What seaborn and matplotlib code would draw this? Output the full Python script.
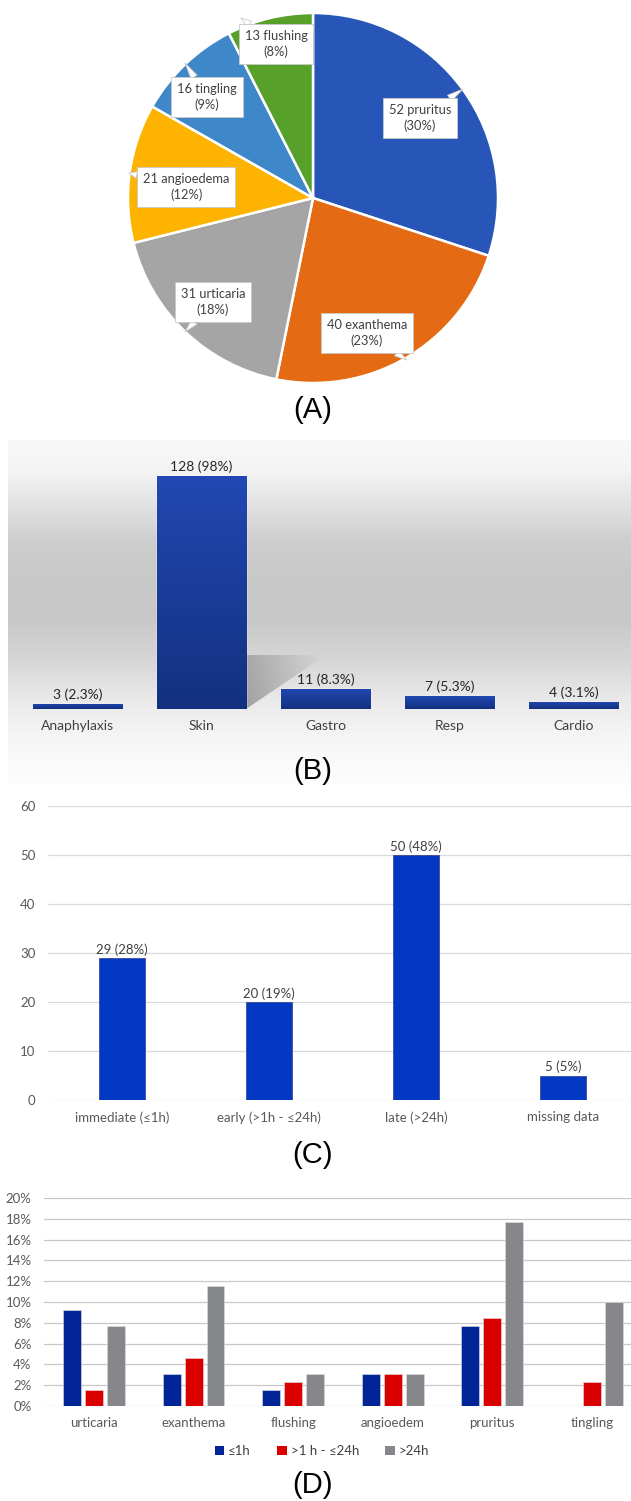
import numpy as np
import pandas as pd
import matplotlib
matplotlib.use("Agg")
import matplotlib.pyplot as plt
import seaborn as sns
from matplotlib.patches import Polygon, Patch
from matplotlib.colors import LinearSegmentedColormap

# ---------------- data ----------------
pie_names = ["pruritus", "exanthema", "urticaria", "angioedema", "tingling", "flushing"]
pie_counts = [52, 40, 31, 21, 16, 13]
pie_pcts = [30, 23, 18, 12, 9, 8]

b_cats = ["Anaphylaxis", "Skin", "Gastro", "Resp", "Cardio"]
b_counts = [3, 128, 11, 7, 4]
b_pcts = [2.3, 98, 8.3, 5.3, 3.1]

c_cats = ["immediate (≤1h)", "early (>1h - ≤24h)", "late (>24h)", "missing data"]
c_counts = [29, 20, 50, 5]
c_pcts = [28, 19, 48, 5]

d_cats = ["urticaria", "exanthema", "flushing", "angioedem", "pruritus", "tingling"]
d_onsets = ["≤1h", ">1 h - ≤24h", ">24h"]
d_le1h = [9.2, 3.1, 1.5, 3.1, 7.7, 0.0]
d_1to24 = [1.5, 4.6, 2.3, 3.1, 8.5, 2.3]
d_gt24 = [7.7, 11.5, 3.1, 3.1, 17.7, 10.0]

# ---------------- style ----------------
sns.set_theme(style="white")
plt.rcParams["font.family"] = ["Lato", "DejaVu Sans"]

W, H = 631, 1501
fig = plt.figure(figsize=(W / 100, H / 100), dpi=100)
fig.patch.set_facecolor("white")


def add_px(l, t, r, b, **kw):
    return fig.add_axes([l / W, 1 - b / H, (r - l) / W, (b - t) / H], **kw)


def panel_label(txt, y):
    fig.text(313 / W, 1 - y / H, txt, ha="center", va="center", fontsize=21,
             family=["Liberation Sans", "DejaVu Sans"], color="black")


# ---------------- (A) pie ----------------
pie_colors = ["#2756B8", "#E46A13", "#A5A5A5", "#FDB300", "#3E87C8", "#57A02A"]
axA = add_px(128, 13, 498, 383)
axA.pie(pie_counts, colors=pie_colors, startangle=90, counterclock=False,
        wedgeprops=dict(edgecolor="white", linewidth=1.8))
axA.set_xlim(-1, 1)
axA.set_ylim(-1, 1)
axA.set_aspect("equal")
label_pos = [(0.578, 0.432), (0.292, -0.730), (-0.541, -0.562),
             (-0.686, 0.059), (-0.573, 0.546), (-0.200, 0.832)]
tail_pos = [(0.811, 0.589), (0.508, -0.876), (-0.692, -0.724),
            (-0.995, 0.135), (-0.692, 0.730), (-0.389, 0.973)]
for name, n, p, lp, tp in zip(pie_names, pie_counts, pie_pcts, label_pos, tail_pos):
    axA.annotate(f"{n} {name}\n({p}%)", xy=tp, xytext=lp, ha="center", va="center",
                 fontsize=9.3, color="#404040", linespacing=1.3,
                 bbox=dict(boxstyle="square,pad=0.45", fc="white", ec="#c8c8c8", lw=0.6),
                 arrowprops=dict(arrowstyle="wedge,tail_width=0.55,shrink_factor=0.5",
                                 fc="white", ec="#c8c8c8", lw=0.6,
                                 shrinkA=0, shrinkB=0))
panel_label("(A)", 410)

# ---------------- (B) bars with gradient background ----------------
axBg = add_px(8, 440, 631, 785)
stops_y = [0.0, 0.09, 0.17, 0.29, 0.40, 0.52, 0.64, 0.75, 0.87, 1.0]
stops_v = [0.975, 0.955, 0.90, 0.81, 0.785, 0.785, 0.84, 0.915, 0.965, 0.995]
yy = np.linspace(0, 1, 300)
gv = np.interp(yy, stops_y, stops_v)
bg_img = np.repeat(np.stack([gv, gv, gv], axis=-1)[:, None, :], 2, axis=1)
axBg.imshow(bg_img, aspect="auto", extent=[0, 1, 0, 1], origin="upper")
axBg.axis("off")

axB = add_px(8, 440, 631, 709)
axB.patch.set_alpha(0)
sns.barplot(x=b_cats, y=b_counts, color="#1D43A8", saturation=1, width=0.72,
            ax=axB, errorbar=None)
bar_cmap = LinearSegmentedColormap.from_list("bb", ["#13317F", "#2148B3"])
grad = np.linspace(0, 1, 100)[:, None]
skin = axB.patches[1]
sx, sw, sh = skin.get_x(), skin.get_width(), skin.get_height()
shadow = Polygon([(sx + sw, 0), (sx + sw, sh * 0.23), (sx + sw * 1.9, sh * 0.23)],
                 closed=True, fc="none", ec="none")
axB.add_patch(shadow)
sgx = np.linspace(0, 1, 100)
sgy = np.linspace(0, 1, 60)
shade = 0.58 + 0.22 * sgx[None, :] + 0.05 * (1 - sgy[:, None])
sim = axB.imshow(shade, cmap="gray", vmin=0, vmax=1, aspect="auto",
                 extent=[sx + sw, sx + sw * 1.9, 0, sh * 0.23],
                 origin="upper", zorder=0.5, alpha=0.85)
sim.set_clip_path(shadow)
for p in list(axB.patches):
    if p is shadow:
        continue
    x, y, w, h = p.get_x(), p.get_y(), p.get_width(), p.get_height()
    im = axB.imshow(grad, cmap=bar_cmap, aspect="auto", extent=[x, x + w, y, y + h],
                    origin="lower", zorder=2)
    im.set_clip_path(p)
axB.bar_label(axB.containers[0], labels=[f"{n} ({p:g}%)" for n, p in zip(b_counts, b_pcts)],
              padding=2, fontsize=10, color="#262626")
axB.set_xlim(-0.5605, 4.464)
axB.set_ylim(0, 147.8)
axB.set_yticks([])
axB.set_ylabel("")
axB.tick_params(axis="x", length=0, pad=8, labelsize=10, labelcolor="#404040")
for s in axB.spines.values():
    s.set_visible(False)
panel_label("(B)", 771)

# ---------------- (C) onset bars ----------------
axC = add_px(48, 806, 631, 1100)
sns.barplot(x=c_cats, y=c_counts, color="#0339C2", saturation=1, width=0.313,
            edgecolor="#3A4A95", linewidth=0.6, ax=axC, errorbar=None)
axC.bar_label(axC.containers[0], labels=[f"{n} ({p}%)" for n, p in zip(c_counts, c_pcts)],
              padding=1.5, fontsize=9.5, color="#404040")
axC.set_ylim(0, 60)
axC.set_yticks(range(0, 61, 10))
axC.set_xlim(-0.503, 3.463)
axC.yaxis.grid(True, color="#d9d9d9", lw=0.9)
axC.xaxis.grid(False)
axC.set_axisbelow(True)
axC.tick_params(axis="y", length=0, pad=9, labelsize=9.5, labelcolor="#595959")
axC.tick_params(axis="x", length=0, pad=8, labelsize=9.5, labelcolor="#595959")
axC.set_ylabel("")
for s in axC.spines.values():
    s.set_visible(False)
panel_label("(C)", 1155)

# ---------------- (D) grouped bars ----------------
d_colors = ["#012597", "#DA0000", "#86878B"]
df = pd.DataFrame({
    "symptom": d_cats * 3,
    "onset": [d_onsets[0]] * 6 + [d_onsets[1]] * 6 + [d_onsets[2]] * 6,
    "pct": d_le1h + d_1to24 + d_gt24,
})
axD = add_px(44, 1198, 631, 1406)
sns.barplot(data=df, x="symptom", y="pct", hue="onset", order=d_cats, hue_order=d_onsets,
            palette=d_colors, saturation=1, width=0.66, gap=0.18, errorbar=None,
            edgecolor="#e0e0e0", linewidth=0.4, legend=False, ax=axD)
axD.set_ylim(0, 20)
axD.set_yticks(range(0, 21, 2))
axD.set_yticklabels([f"{t}%" for t in range(0, 21, 2)])
axD.set_xlim(-0.502, 5.392)
axD.yaxis.grid(True, color="#c8c8c8", lw=0.9)
axD.xaxis.grid(False)
axD.set_axisbelow(True)
axD.tick_params(axis="y", length=0, pad=9, labelsize=9.5, labelcolor="#595959")
axD.tick_params(axis="x", length=0, pad=8, labelsize=9.5, labelcolor="#595959")
axD.set_xlabel("")
axD.set_ylabel("")
for s in axD.spines.values():
    s.set_visible(False)
handles = [Patch(facecolor=c, edgecolor="none") for c in d_colors]
leg = fig.legend(handles, d_onsets, loc="center", bbox_to_anchor=(322 / W, 1 - 1451 / H),
                 ncol=3, frameon=False, fontsize=9.5, handlelength=0.7, handleheight=0.7,
                 handletextpad=0.3, columnspacing=2.0)
for t in leg.get_texts():
    t.set_color("#404040")
panel_label("(D)", 1485)

fig.savefig("out.png", dpi=100, facecolor="white")
